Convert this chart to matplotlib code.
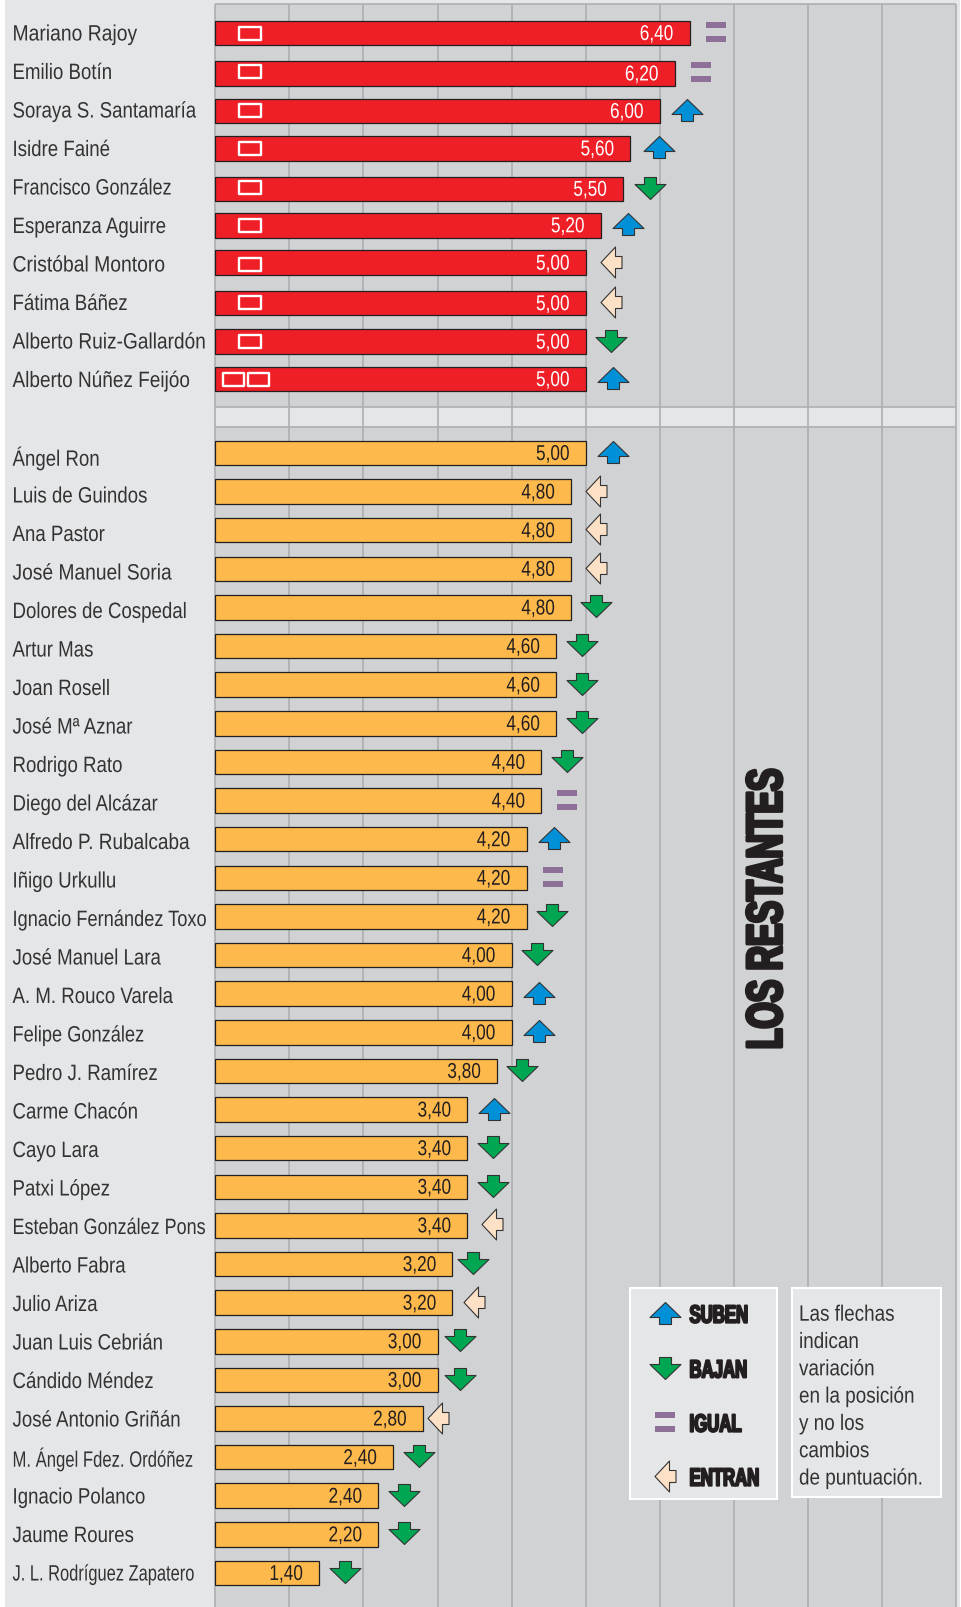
import matplotlib
matplotlib.use('Agg')
import matplotlib.pyplot as plt
from matplotlib.patheffects import AbstractPathEffect
from matplotlib.path import Path
from matplotlib.patches import Rectangle
from matplotlib.transforms import Affine2D
import numpy as np

# Top group
top_names = ['Mariano Rajoy', 'Emilio Botín', 'Soraya S. Santamaría', 'Isidre Fainé',
             'Francisco González', 'Esperanza Aguirre', 'Cristóbal Montoro', 'Fátima Báñez',
             'Alberto Ruiz-Gallardón', 'Alberto Núñez Feijóo']
top_bars = [6.4, 6.2, 6.0, 5.6, 5.5, 5.2, 5.0, 5.0, 5.0, 5.0]
top_labels = ['6,40', '6,20', '6,00', '5,60', '5,50', '5,20', '5,00', '5,00', '5,00', '5,00']
top_moves = ['=', '=', 'up', 'up', 'down', 'up', 'in', 'in', 'down', 'up']
top_boxes = [1, 1, 1, 1, 1, 1, 1, 1, 1, 2]

# Los restantes
rest_names = ['Ángel Ron', 'Luis de Guindos', 'Ana Pastor', 'José Manuel Soria', 'Dolores de Cospedal',
              'Artur Mas', 'Joan Rosell', 'José Mª Aznar', 'Rodrigo Rato', 'Diego del Alcázar',
              'Alfredo P. Rubalcaba', 'Iñigo Urkullu', 'Ignacio Fernández Toxo', 'José Manuel Lara',
              'A. M. Rouco Varela', 'Felipe González', 'Pedro J. Ramírez', 'Carme Chacón', 'Cayo Lara',
              'Patxi López', 'Esteban González Pons', 'Alberto Fabra', 'Julio Ariza', 'Juan Luis Cebrián',
              'Cándido Méndez', 'José Antonio Griñán', 'M. Ángel Fdez. Ordóñez', 'Ignacio Polanco',
              'Jaume Roures', 'J. L. Rodríguez Zapatero']
rest_bars = [5.0, 4.8, 4.8, 4.8, 4.8, 4.6, 4.6, 4.6, 4.4, 4.4, 4.2, 4.2, 4.2, 4.0, 4.0, 4.0, 3.8,
             3.4, 3.4, 3.4, 3.4, 3.2, 3.2, 3.0, 3.0, 2.8, 2.4, 2.2, 2.2, 1.4]
rest_labels = ['5,00', '4,80', '4,80', '4,80', '4,80', '4,60', '4,60', '4,60', '4,40', '4,40',
               '4,20', '4,20', '4,20', '4,00', '4,00', '4,00', '3,80', '3,40', '3,40', '3,40',
               '3,40', '3,20', '3,20', '3,00', '3,00', '2,80', '2,40', '2,40', '2,20', '1,40']
rest_moves = ['up', 'in', 'in', 'in', 'down', 'down', 'down', 'down', 'down', '=', 'up', '=', 'down',
              'down', 'up', 'up', 'down', 'up', 'down', 'down', 'in', 'down', 'in', 'down', 'down',
              'in', 'down', 'down', 'down', 'down']

legend_items = ['SUBEN', 'BAJAN', 'IGUAL', 'ENTRAN']
legend_moves = ['up', 'down', '=', 'in']
note_lines = ['Las flechas', 'indican', 'variación', 'en la posición', 'y no los', 'cambios', 'de puntuación.']

SANS = 'Liberation Sans'
DARK = '#231f20'
PANEL = '#e5e6e8'
UNIT = 74.1
X0 = 215.3

# the original sets some names tighter or looser than the rest
name_squeeze = {'M. Ángel Fdez. Ordóñez': 0.75, 'J. L. Rodríguez Zapatero': 0.74, 'Esteban González Pons': 0.81,
                'Ignacio Fernández Toxo': 0.82, 'Mariano Rajoy': 0.87, 'Cristóbal Montoro': 0.87,
                'Alberto Ruiz-Gallardón': 0.86, 'Alberto Núñez Feijóo': 0.855, 'Francisco González': 0.81,
                'José Manuel Soria': 0.865, 'Alfredo P. Rubalcaba': 0.855, 'Felipe González': 0.82}


def ux(p):
    # pixel column to axis units
    return (p - X0) / UNIT


class Squeeze(AbstractPathEffect):
    # no condensed font is installed, so narrow the text when it is drawn
    def __init__(self, sx, anchor='left', stroke=0):
        super().__init__()
        self.sx, self.anchor, self.stroke = sx, anchor, stroke

    def draw_path(self, renderer, gc, tpath, affine, rgbFace=None):
        ext = tpath.get_extents()
        pivot = {'left': 0, 'right': ext.x1, 'center': (ext.x0 + ext.x1) / 2}[self.anchor]
        narrow = Affine2D().translate(-pivot, 0).scale(self.sx, 1).translate(pivot, 0) + affine
        gc0 = renderer.new_gc()
        gc0.copy_properties(gc)
        gc0.set_linewidth(self.stroke)
        gc0.set_foreground(rgbFace)
        renderer.draw_path(gc0, tpath, narrow, rgbFace)
        gc0.restore()


arrow_up = Path(np.array([(0, 11), (15.5, -4), (6, -4), (6, -11), (-6, -11), (-6, -4), (-15.5, -4), (0, 11)]), closed=True)
arrow_down = Path(arrow_up.vertices * [1, -1], closed=True)
arrow_in = Path(np.array([(-10.5, 0), (4, -15.5), (4, -6), (10.5, -6), (10.5, 6), (4, 6), (4, 15.5), (-10.5, 0)]), closed=True)
equal = Path(np.array([(-10, 4), (10, 4), (10, 10), (-10, 10), (-10, 4),
                       (-10, -10), (10, -10), (10, -4), (-10, -4), (-10, -10)]),
             [1, 2, 2, 2, 79, 1, 2, 2, 2, 79])
box = Path(np.array([(-10.5, -6.5), (10.5, -6.5), (10.5, 6.5), (-10.5, 6.5), (-10.5, -6.5)]), closed=True)

move_style = {
    'up': (arrow_up, '#0090d7', 31, 27),
    'down': (arrow_down, '#00a651', 31, 25.5),
    'in': (arrow_in, '#fde1c6', 31, 25),
    '=': (equal, '#8e6f97', 20, 26),
}
# arrows that do not keep the usual distance from the bar
move_nudge = {'José Antonio Griñán': -9.5, 'Julio Ariza': -3, 'Alberto Fabra': -5, 'Juan Luis Cebrián': -3,
              'Cándido Méndez': -3, 'Francisco González': 2, 'Isidre Fainé': 1.5}


def draw_move(ax, x, y, move):
    marker, color, size, _ = move_style[move]
    size_pt = size * 72 / 100
    if move == '=':
        ax.scatter(x, y, marker=marker, s=size_pt ** 2, c=color, linewidths=0, zorder=5)
    else:
        ax.scatter(x, y, marker=marker, s=size_pt ** 2, c=color, edgecolors='#333333', linewidths=0.8, zorder=5)


fig = plt.figure(figsize=(9.62, 16.07), dpi=100, facecolor='white')
ax = fig.add_axes([0, 0, 1, 1])
ax.set_xlim(ux(0), ux(962))
ax.set_ylim(1607, 0)
ax.axis('off')

# Background panels
ax.add_patch(Rectangle((ux(5), 0), ux(960) - ux(5), 1607, fc=PANEL, ec='none', zorder=0))
ax.add_patch(Rectangle((0, 3.5), 10, 1607, fc='#d0d2d4', ec='none', zorder=0.5))
ax.add_patch(Rectangle((0, 407), 10, 20, fc=PANEL, ec='none', zorder=0.6))
ax.hlines([3.5, 407, 427], 0, 10, color='#adafb2', lw=1.2, zorder=1)
ax.vlines(np.arange(0, 11), 3.5, 1607, color='#adafb2', lw=1.2, zorder=1)

# Bars
top_shift = np.array([0, 2, 1, 0, 2, 0, -1, 1, 1, 0])
top_y = 33 + 38.45 * np.arange(len(top_names)) + top_shift
rest_y = 453 + 38.62 * np.arange(len(rest_names))
top_name_y = 32.5 + 38.5 * np.arange(len(top_names))
rest_name_y = 456 + 38.5 * np.arange(len(rest_names))
ax.barh(top_y, top_bars, height=24.5, color='#ef1f27', edgecolor=DARK, linewidth=0.9, zorder=3)
ax.barh(rest_y, rest_bars, height=24.5, color='#fdb94b', edgecolor=DARK, linewidth=0.9, zorder=3)

# Small white boxes in the top bars
box_pt = 21 * 72 / 100
for y, n in zip(top_name_y, top_boxes):
    xs = [ux(250)] if n == 1 else [ux(234), ux(258.3)]
    for x in xs:
        ax.scatter(x, y + 0.8, marker=box, s=box_pt ** 2, facecolors='none', edgecolors='white',
                   linewidths=1.7, zorder=4)

# Names
for y, name in zip(list(top_name_y) + list(rest_name_y), top_names + rest_names):
    ax.text(ux(12.5), y, name, family=SANS, fontsize=16, color='#333333', va='center_baseline', ha='left',
            path_effects=[Squeeze(name_squeeze.get(name, 0.84))])

# Values and arrows
for y, v, lab, mv, name in zip(top_y, top_bars, top_labels, top_moves, top_names):
    ax.text(v - 16 / UNIT, y - 1, lab, family=SANS, fontsize=15.5, color='white', ha='right', va='center_baseline',
            zorder=4, path_effects=[Squeeze(0.8, 'right')])
    draw_move(ax, v + (move_style[mv][3] + move_nudge.get(name, 0)) / UNIT, y - 1, mv)
for y, v, lab, mv, name in zip(rest_y, rest_bars, rest_labels, rest_moves, rest_names):
    ax.text(v - 16 / UNIT, y - 1, lab, family=SANS, fontsize=15.5, color=DARK, ha='right', va='center_baseline',
            zorder=4, path_effects=[Squeeze(0.8, 'right')])
    draw_move(ax, v + (move_style[mv][3] + move_nudge.get(name, 0)) / UNIT, y - 1, mv)

# Los restantes
ax.text(ux(768.5), 909, 'LOS RESTANTES', family=SANS, fontweight='bold', fontsize=36, color=DARK,
        rotation=90, ha='center', va='center', zorder=4,
        path_effects=[Squeeze(0.675, 'center', stroke=2.4)])

# Legend boxes
ax.add_patch(Rectangle((ux(630), 1288), ux(777) - ux(630), 211, fc=PANEL, ec='white', lw=1.5, zorder=4))
ax.add_patch(Rectangle((ux(792), 1287.5), ux(941) - ux(792), 209.5, fc=PANEL, ec='white', lw=1.5, zorder=4))
for y, item, mv in zip([1312.7, 1367.5, 1421.7, 1475.7], legend_items, legend_moves):
    draw_move(ax, ux(665), y, mv)
    ax.text(ux(689.5), y + 0.5, item, family=SANS, fontweight='bold', fontsize=18, color=DARK,
            va='center_baseline', ha='left', zorder=5,
            path_effects=[Squeeze(0.67, stroke=1.4)])
for i, line in enumerate(note_lines):
    ax.text(ux(799), 1312.7 + 27.3 * i, line, family=SANS, fontsize=16, color='#333333',
            va='center_baseline', ha='left', zorder=5, path_effects=[Squeeze(0.85)])

fig.savefig('out.png', dpi=100)
